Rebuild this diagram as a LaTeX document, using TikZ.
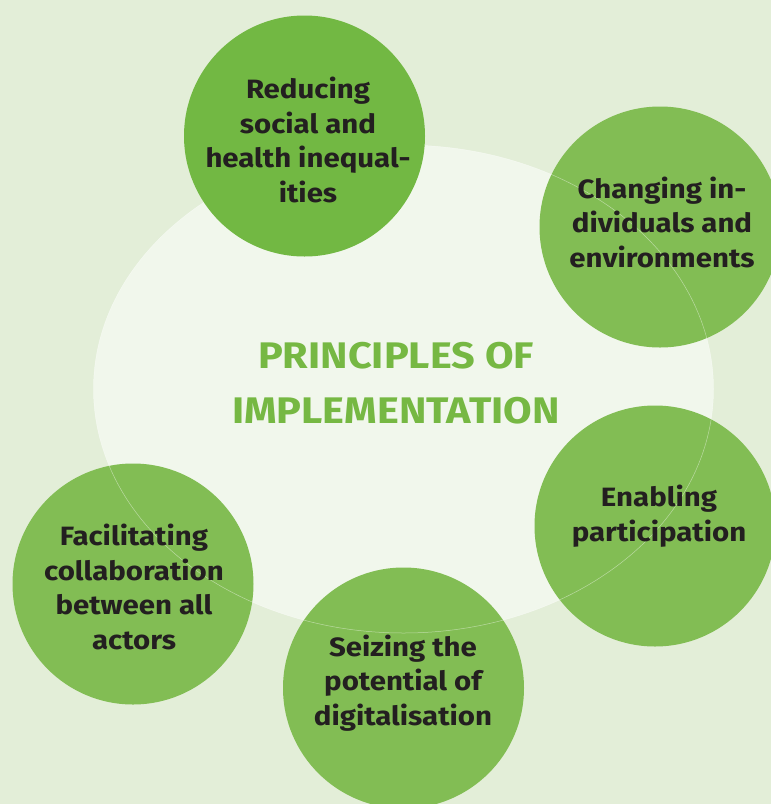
\documentclass[tikz,border=0pt]{standalone}
\usepackage{fontspec}
\setmainfont{Fira Sans}
\newfontfamily\labelfont[FakeStretch=1.11]{Fira Sans}
\newfontfamily\titlefont[FakeStretch=1.12]{Fira Sans}
\usetikzlibrary{positioning, shapes.geometric}

\definecolor{bggreen}{HTML}{E3EED8}
\definecolor{ovalgreen}{HTML}{F1F7EC}
\definecolor{topgreen}{HTML}{72B843}
\definecolor{circgreen}{HTML}{82BD54}
\definecolor{titlegreen}{HTML}{76B843}
\definecolor{textdark}{HTML}{231F20}

\begin{document}
\begin{tikzpicture}[x=1pt, y=-1pt]
    \useasboundingbox (0,0) rectangle (771,804);
    \fill[bggreen] (0,0) rectangle (771,804);

    % Oval
    \node[draw=none, ellipse, fill=ovalgreen, minimum width=620pt, minimum height=488pt] (oval) at (403.5,389) {};

    % Circles
    \node[circle, fill=circgreen, minimum size=241pt] (change) at (660,227) {};
    \node[circle, fill=circgreen, minimum size=241pt] (enable) at (655,526) {};
    \node[circle, fill=circgreen, minimum size=241pt] (seize) at (403.5,688) {};
    \node[circle, fill=circgreen, minimum size=241pt] (collab) at (133,584) {};
    \draw[white, opacity=0.45, line width=0.5pt] (oval.center) ellipse [x radius=310pt, y radius=244pt];
    \node[circle, fill=topgreen, minimum size=241pt] (reduce) at (304.5,136) {};

    % Title
    \node[text=titlegreen, font=\titlefont\bfseries\fontsize{37}{55}\selectfont, align=center] (title) at (396,383) {PRINCIPLES OF\\IMPLEMENTATION};

    % Labels
    \node[text=textdark, font=\labelfont\bfseries\fontsize{26.5}{34.5}\selectfont, align=center] (reducetxt) at (308,140) {Reducing\\social and\\health inequal-\\ities};
    \node[text=textdark, font=\labelfont\bfseries\fontsize{26.5}{34.5}\selectfont, align=center] (changetxt) at (662,222) {Changing in-\\dividuals and\\environments};
    \node[text=textdark, font=\labelfont\bfseries\fontsize{26.5}{34.5}\selectfont, align=center] (enabletxt) at (659,516) {Enabling\\participation};
    \node[text=textdark, font=\labelfont\bfseries\fontsize{26.5}{34.5}\selectfont, align=center] (seizetxt) at (403,683) {Seizing the\\potential of\\digitalisation};
    \node[text=textdark, font=\labelfont\bfseries\fontsize{26.5}{34.5}\selectfont, align=center] (collabtxt) at (134,587) {Facilitating\\collaboration\\between all\\actors};
\end{tikzpicture}
\end{document}
